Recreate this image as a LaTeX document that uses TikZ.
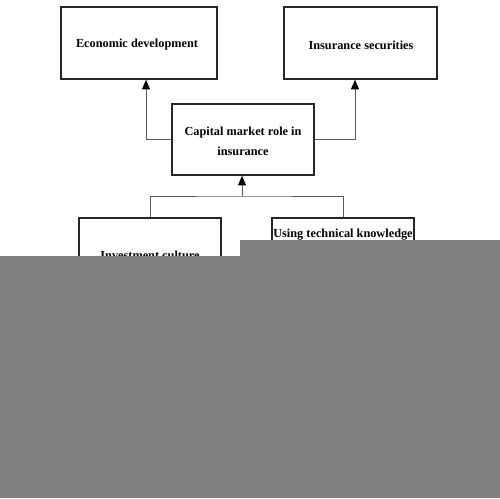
\documentclass[tikz,border=0pt]{standalone}
\usepackage{fontspec}
\setmainfont{Liberation Serif}
\usetikzlibrary{arrows.meta,calc}
\definecolor{maskgray}{HTML}{808080}
\definecolor{linegray}{HTML}{5A5A5A}
\begin{document}
\begin{tikzpicture}[x=0.02cm,y=-0.02cm,
  box/.style={draw=black!85,line width=0.8pt,rectangle,inner sep=0pt,
    font=\fontsize{7}{11.4}\selectfont\bfseries,align=center},
  lbl/.style={inner sep=0pt,font=\fontsize{7}{11.4}\selectfont\bfseries},
  conn/.style={draw=linegray,line width=0.55pt},
  arr/.style={conn,-{Triangle[length=5.5pt,width=4.5pt,color=black]}}]
\useasboundingbox (0,0) rectangle (500,498);
\node[box,minimum width=3.12cm,minimum height=1.44cm] (eco) at (139,43) {};
\node[lbl] (ecot) at (137,45) {Economic development};
\node[box,minimum width=3.06cm,minimum height=1.44cm] (ins) at (360.5,43) {};
\node[lbl] (inst) at (361,45) {Insurance securities};
\node[box,minimum width=2.84cm,minimum height=1.42cm] (mid) at (243,139.5) {};
\node[lbl,align=center] (midt) at (243,141.5) {Capital market role in\\insurance};
\node[box,minimum width=2.84cm,minimum height=1.44cm] (inv) at (150,254) {};
\node[lbl] (invt) at (150,255) {Investment culture};
\node[box,minimum width=2.84cm,minimum height=1.44cm] (use) at (343,254) {};
\node[lbl] (uset) at (343,234.5) {Using technical knowledge};
\coordinate (j) at (242,196);
\draw[arr] (mid.west) -| ($(eco.south)+(7,0)$);
\draw[arr] (mid.east) -| ($(ins.south)+(-5.5,0)$);
\draw[conn] (inv.north) |- (j) -| (use.north);
\draw[arr] (j) -- (j |- mid.south);
\fill[maskgray] (0,256) rectangle (500,498);
\fill[maskgray] (240,240) rectangle (500,256);
\end{tikzpicture}
\end{document}
